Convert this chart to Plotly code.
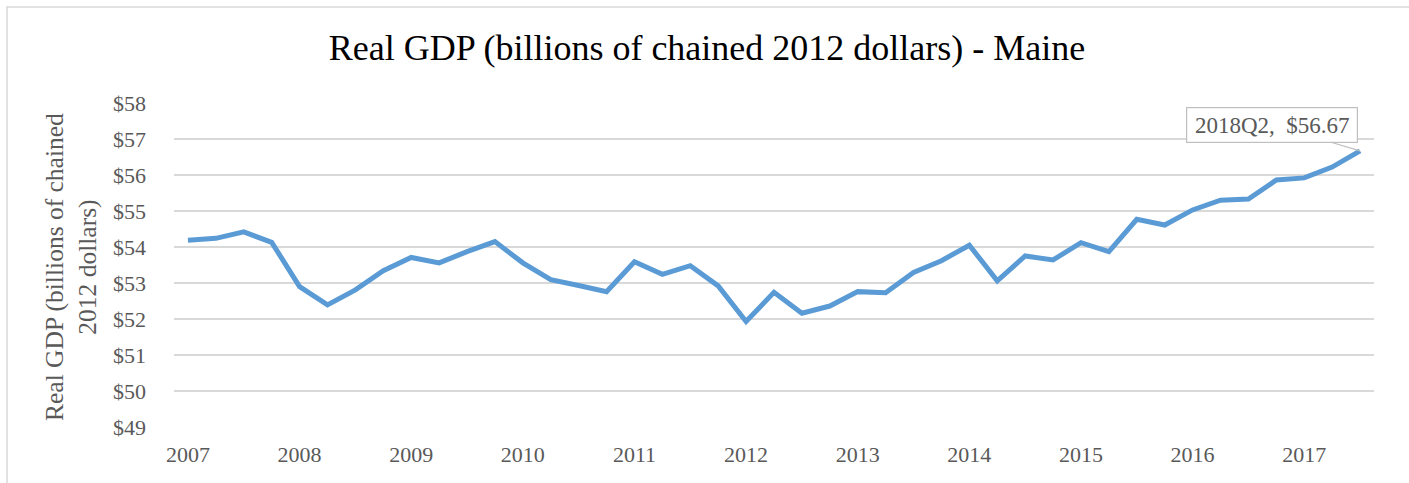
import plotly.graph_objects as go

# Quarterly categories (43 quarters ending 2018Q2)
quarters = []
for y in range(2007, 2019):
    for q in range(1, 5):
        quarters.append(f"{y}Q{q}")
quarters = quarters[quarters.index("2007Q4"):quarters.index("2018Q2") + 1]

gdp = [54.19, 54.24, 54.42, 54.13, 52.90, 52.39, 52.81, 53.34, 53.71, 53.56,
       53.87, 54.15, 53.56, 53.09, 52.93, 52.76, 53.59, 53.24, 53.48, 52.92,
       51.93, 52.74, 52.16, 52.36, 52.76, 52.73, 53.29, 53.62, 54.05, 53.06,
       53.75, 53.64, 54.12, 53.87, 54.77, 54.61, 55.03, 55.30, 55.33, 55.86,
       55.92, 56.22, 56.67]

year_labels = [str(y) for y in range(2007, 2018)]
year_tick_cats = [quarters[i * 4] for i in range(len(year_labels))]

y_ticks = list(range(49, 59))
y_ticktext = [f"${v}" for v in y_ticks]

W, H = 1409, 483
L, R, T, B = 174, 35, 103, 56
pw, ph = W - L - R, H - T - B

FONT = "Liberation Serif"
GREY = "#595959"

fig = go.Figure()
fig.add_trace(go.Scatter(
    x=quarters, y=gdp, mode="lines",
    line=dict(color="#5B9BD5", width=5),
    hoverinfo="x+y",
))

fig.update_layout(
    width=W, height=H,
    margin=dict(l=L, r=R, t=T, b=B),
    paper_bgcolor="white", plot_bgcolor="white",
    showlegend=False,
    title=dict(
        text="Real GDP (billions of chained 2012 dollars) - Maine",
        x=707 / W, xanchor="center", xref="container",
        y=1 - 47 / H, yanchor="middle", yref="container",
        font=dict(family=FONT, size=36, color="#000000"),
    ),
    xaxis=dict(
        type="category",
        categoryorder="array", categoryarray=quarters,
        range=[-0.5, len(quarters) - 0.5],
        tickmode="array", tickvals=year_tick_cats, ticktext=year_labels,
        showgrid=False, zeroline=False, showline=False,
        ticks="", ticklabelstandoff=12,
        tickfont=dict(family=FONT, size=22, color=GREY),
    ),
    yaxis=dict(
        range=[49, 58],
        tickmode="array", tickvals=y_ticks, ticktext=y_ticktext,
        showgrid=True, gridcolor="#D9D9D9", gridwidth=1.5,
        zeroline=False, showline=False,
        ticks="", ticklabelstandoff=27,
        tickfont=dict(family=FONT, size=22, color=GREY),
    ),
)

# Y-axis title (two lines, rotated)
fig.add_annotation(
    text="Real GDP (billions of chained<br>2012 dollars)",
    xref="paper", yref="paper",
    x=(71 - L) / pw, y=(H - B - 267) / ph,
    xanchor="center", yanchor="middle",
    textangle=-90, showarrow=False,
    font=dict(family=FONT, size=25.5, color=GREY),
)

# Data label callout
fig.add_annotation(
    x=quarters[-1], y=gdp[-1],
    text=f"{quarters[-1]},  ${gdp[-1]:.2f}",
    showarrow=True, arrowhead=0, arrowwidth=1.2, arrowcolor="#BFBFBF",
    ax=-88, ay=-26, standoff=0,
    width=168, height=32,
    bgcolor="white", bordercolor="#BFBFBF", borderwidth=1.2, borderpad=1,
    font=dict(family=FONT, size=23, color=GREY),
)

# Chart border
fig.add_shape(
    type="rect", xref="paper", yref="paper",
    x0=(7 - L) / pw, x1=(W + 20 - L) / pw,
    y0=-(B + 20) / ph, y1=1 + (T - 7) / ph,
    line=dict(color="#D9D9D9", width=1.5), fillcolor="rgba(0,0,0,0)",
    layer="below",
)

fig.write_html("out.html")
